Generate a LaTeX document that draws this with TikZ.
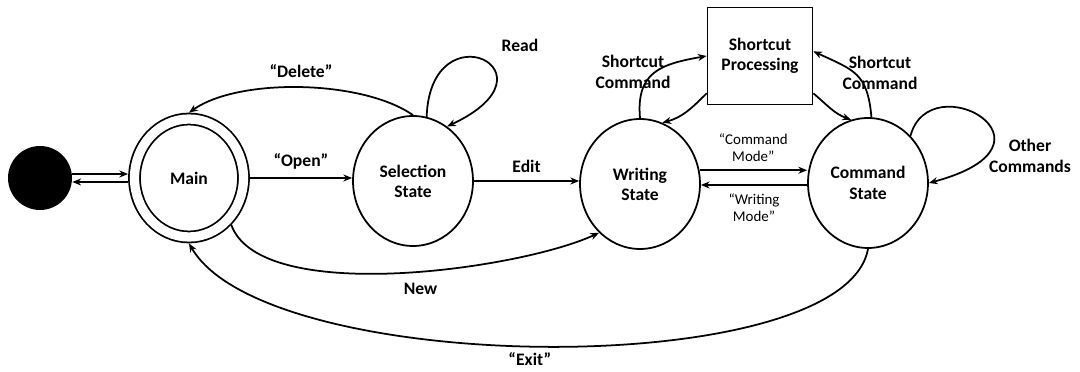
\documentclass[tikz,border=0pt]{standalone}
\usepackage{fontspec}
\setmainfont{Carlito}
\usetikzlibrary{shapes.geometric,arrows.meta}

\tikzset{
  state/.style={draw, ellipse, line width=1pt, minimum width=2.4cm, minimum height=2.6cm,
    inner sep=0pt, align=center, font=\fontsize{10}{11.5}\selectfont\bfseries},
  trans/.style={-{Stealth[length=5pt,width=4pt]}, line width=1pt},
  lab/.style={align=center, font=\fontsize{10}{11.5}\selectfont\bfseries},
  smalllab/.style={align=center, font=\fontsize{8.5}{10}\selectfont}
}

\begin{document}
\begin{tikzpicture}[x=0.02cm, y=0.02cm]

\useasboundingbox (0,0) rectangle (1080,372);

% states
\node[circle, fill=black, minimum size=1.28cm, inner sep=0pt] (init) at (40,194) {};

\node[state, double, double distance=0.185cm, minimum width=2.18cm, minimum height=2.36cm,
  outer sep=0.128cm] (main) at (189,194) {Main};

\node[state] (sel) at (413,191) {Selection\\State};

\node[state] (write) at (640,188) {Writing\\State};

\node[state] (cmd) at (868,189) {Command\\State};

\node[draw, rectangle, line width=1pt, minimum width=2.1cm, minimum height=1.94cm,
  align=center, font=\fontsize{10}{11.5}\selectfont\bfseries] (proc) at (760,316) {Shortcut\\Processing};


% start
\draw[trans] ([yshift=0.08cm]init.east) -- ([yshift=0.08cm]main.west);

\draw[trans] ([yshift=-0.08cm]main.west) -- ([yshift=-0.08cm]init.east);


% main <-> selection
\draw[trans] (main.east) -- (main.east -| sel.west) node[lab, midway, above=1pt] {“Open”};

\draw[trans] (sel.north) to[out=145, in=35, looseness=0.7] node[lab, above=2pt] {“Delete”} (main.north);

\draw[trans] (sel.78) to[out=88, in=25, out distance=2.2cm, in distance=2.6cm] (sel.58);

\node[lab] (readlab) at (520,327) {Read};


% to writing
\draw[trans] (sel.east) -- (sel.east -| write.west) node[lab, midway, above=1pt] {Edit};

\draw[trans] (main.-48) to[out=-70, in=-155, looseness=0.6] node[lab, pos=0.55, below=3pt] {New} (write.-130);


% writing <-> command
\draw[trans] (write.13) -- (write.13 -| cmd.west) node[smalllab, midway, above=1pt] {“Command\\Mode”};

\draw[trans] ([yshift=-0.04cm]cmd.west) -- ([yshift=-0.04cm]cmd.west -| write.east)
  node[smalllab, midway, below=1pt] {“Writing\\Mode”};


% shortcut processing
\draw[trans] (write.north) to[out=95, in=190, looseness=1.3] (proc.west);

\draw[trans] (proc.215) to[out=225, in=15] (write.70);

\node[lab] (sclabl) at (633,300) {Shortcut\\Command};

\draw[trans] (cmd.87) to[out=95, in=-25, looseness=1.3] (proc.5);

\draw[trans] (proc.-35) to[out=-40, in=160] (cmd.105);

\node[lab] (sclabr) at (880,299) {Shortcut\\Command};


% command loop and exit
\draw[trans] (cmd.48) to[out=75, in=15, out distance=1.5cm, in distance=3cm] (cmd.0);

\node[lab] (otherlab) at (1030,216) {Other\\Commands};

\draw[trans] (cmd.south) to[out=-100, in=-60, out distance=2.7cm, in distance=3.1cm]
  node[lab, pos=0.52, below=0pt] {“Exit”} (main.south);

\end{tikzpicture}
\end{document}
